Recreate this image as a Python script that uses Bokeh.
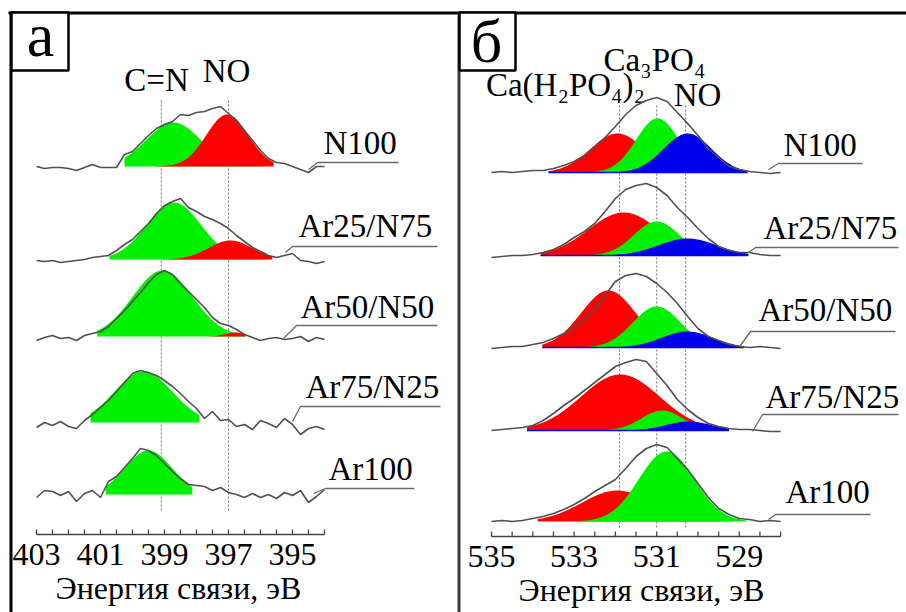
import numpy as np
from bokeh.plotting import figure
from bokeh.models import Range1d
from bokeh.core.properties import value
from bokeh.embed import file_html
from bokeh.resources import INLINE

# ------------------------------------------------------------------ data
samples = ["N100", "Ar25/N75", "Ar50/N50", "Ar75/N25", "Ar100"]

# panel а : N 1s, energy grid 403 -> 394 eV, step 0.25 eV
n_energy = np.arange(403.0, 393.99, -0.25)
n_n100 = [0, -2, -1, -1, -2, -4, -1, 2, -1, -1, -1, 12, 15, 23, 31, 38, 42, 45, 52, 51,
          54, 55, 58, 60, 53, 46, 36, 26, 16, 8, 4, 3, 0, -3, -6, 0, 0]
n_ar25 = [-1, -2, -1, -3, -2, -1, 0, 2, 3, 4, 9, 15, 20, 28, 36, 46, 54, 58, 61, 52,
          48, 43, 40, 36, 31, 24, 18, 12, 8, 4, 2, 4, 6, -1, -2, -4, -2]
n_ar50 = [-4, -1, 1, -2, -1, -4, 1, 3, 5, 10, 18, 26, 35, 44, 54, 62, 66, 62, 53, 45,
          37, 29, 19, 13, 11, 7, 2, -1, -4, -2, -1, -3, -2, 0, -5, -1, -3]
n_ar75 = [-5, 0, -3, 1, -4, -6, 2, 8, 15, 22, 31, 40, 49, 52, 50, 47, 42, 36, 29, 21,
          14, 4, 11, 2, 3, -4, -2, -7, 2, -1, -5, 4, -2, -12, -6, -4, -7]
n_ar100 = [-3, 4, 3, -1, 3, -7, 1, 4, -3, 13, 18, 27, 36, 46, 44, 39, 31, 23, 16, 10,
           9, 8, 4, 7, 2, 0, -3, 1, -3, 0, -4, 2, -1, 4, -8, -2, 5]
n_spectra = [n_n100, n_ar25, n_ar50, n_ar75, n_ar100]
n_offsets = [446, 353, 276, 190, 118]

n_cn_center = [398.72, 398.71, 399.06, 399.66, 399.50]
n_cn_height = [44, 57, 66, 51, 44]
n_cn_sigma = [0.85, 0.85, 0.93, 0.90, 0.73]
n_no_center = [397.04, 396.94, 396.80, 397.0, 397.0]
n_no_height = [52, 19, 4, 0, 0]
n_no_sigma = [0.65, 0.68, 0.30, 0.5, 0.5]
n_fit_hi = [400.25, 400.72, 401.10, 401.31, 400.84]
n_fit_lo = [395.59, 395.63, 396.47, 397.91, 398.13]
n_ref_lines = [399.1, 397.0]
n_ref_names = ["C=N", "NO"]
n_ticks_major = [403, 401, 399, 397, 395]

# panel б : O 1s, energy grid 535 -> 528 eV, step 0.25 eV
o_energy = np.arange(535.0, 527.99, -0.25)
o_n100 = [0, 1, 0, 1, 2, 2, 4, 7, 11, 17, 26, 35, 46, 58, 67, 72, 75, 71, 60, 49,
          37, 24, 15, 6, 3, 1, 0, -1, 0]
o_ar25 = [-2, -1, 0, 0, 1, 3, 6, 11, 18, 24, 32, 44, 57, 66, 70, 72, 68, 60, 48, 38,
          27, 17, 9, 5, 3, 3, 1, 0, 0]
o_ar50 = [-1, 0, 1, 1, 3, 5, 9, 14, 20, 29, 38, 52, 66, 72, 74, 71, 64, 55, 44, 31,
          19, 11, 7, 3, 1, 0, 1, 0, -1]
o_ar75 = [0, 1, 2, 3, 5, 10, 17, 25, 32, 40, 48, 56, 64, 68, 71, 69, 57, 45, 31, 21,
          13, 7, 4, 2, 1, 1, 0, -1, -1]
o_ar100 = [0, 1, 0, 1, 3, 5, 8, 12, 17, 23, 30, 36, 42, 53, 65, 73, 77, 74, 63, 52,
           38, 24, 13, 7, 3, 2, 0, 1, 0]
o_spectra = [o_n100, o_ar25, o_ar50, o_ar75, o_ar100]
o_offsets = [440, 357, 265, 182, 91]

o_red_center = [531.95, 531.80, 532.17, 531.88, 531.96]
o_red_height = [39, 43, 57, 56, 31]
o_red_sigma = [0.65, 0.85, 0.66, 0.95, 0.85]
o_green_center = [530.98, 531.00, 531.00, 530.87, 530.76]
o_green_height = [54, 34, 41, 20, 70]
o_green_sigma = [0.52, 0.55, 0.58, 0.50, 0.67]
o_blue_center = [530.25, 530.25, 530.26, 530.22, 530.25]
o_blue_height = [39, 17, 16, 9, 0]
o_blue_sigma = [0.58, 0.70, 0.62, 0.55, 0.50]
o_fit_hi = [533.62, 533.81, 533.77, 534.14, 533.88]
o_fit_lo = [528.80, 528.78, 528.89, 529.25, 528.83]
o_ref_lines = [531.9, 531.0, 530.3]
o_ticks_major = [535, 533, 531, 529]

# ------------------------------------------------------------------ layout helpers
FONT = value("Liberation Serif, Times New Roman, serif")
W, H = 906, 612
K = 0.37  # baseline correction (fraction of font size)


def ys(py):  # page pixel y -> data y
    return H - py


def xl(px):  # page pixel x -> energy (panel а)
    return 403 - (px - 36) / 32.0


def xr(px):  # page pixel x -> energy (panel б)
    return 535 - (px - 491) / 41.3


p = figure(width=W, height=H, output_backend="svg", toolbar_location=None,
           x_range=Range1d(xl(0), xl(W)), y_range=Range1d(0, H),
           x_axis_type=None, y_axis_type=None, min_border=0)
p.extra_x_ranges = {"r": Range1d(xr(0), xr(W))}
p.xgrid.visible = False
p.ygrid.visible = False
p.outline_line_color = None
p.background_fill_color = "white"
p.border_fill_color = "white"

LINE = "#505050"
LEAD = "#6a6a6a"
RED, GREEN, BLUE = "#ff0000", "#00f000", "#0000ee"


def gauss(e, c, h, s):
    return h * np.exp(-((e - c) ** 2) / (2 * s * s))


def fill_peak(lo, hi, c, h, s, off, color, rng="default"):
    if h <= 0:
        return
    e = np.linspace(hi, lo, 160)
    g = gauss(e, c, h, s)
    p.varea(x=e, y1=np.full_like(e, off), y2=off + g, fill_color=color,
            x_range_name=rng)


def texts(xs, py, labels, size=33, align="left", rng="default"):
    """py: page-pixel y of the text baseline"""
    p.text(x=list(xs), y=[ys(py - K * size)] * len(xs), text=list(labels),
           text_font=FONT, text_font_size=f"{size}px", text_align=align,
           text_baseline="alphabetic", text_color="black", x_range_name=rng)


def text(x, py, s, size=33, align="left", rng="default"):
    texts([x], py, [s], size, align, rng)


# ------------------------------------------------------------------ panel frames
p.line([xl(8), xl(906)], [ys(12.5), ys(12.5)], line_color="black", line_width=3)
p.line([xl(10.5), xl(10.5)], [ys(11), ys(620)], line_color="black", line_width=3)
p.line([xl(458.5), xl(458.5)], [ys(11), ys(620)], line_color="#3c3c3c", line_width=3)
p.quad(left=xl(11), right=xl(68), top=ys(12), bottom=ys(70), fill_color="white",
       line_color="black", line_width=2.5)
p.quad(left=xr(459), right=xr(515), top=ys(12), bottom=ys(70), fill_color="white",
       line_color="black", line_width=2.5, x_range_name="r")
text(xl(40), 57, "а", size=62, align="center")
text(xr(486), 63, "б", size=62, align="center", rng="r")

# ------------------------------------------------------------------ panel а
for e in n_ref_lines:
    p.line([e, e], [ys(100), ys(511)], line_color="#707070", line_width=1,
           line_dash="2 2")
text(xl(156), 92, n_ref_names[0], align="center")
text(xl(226), 83, n_ref_names[1], align="center")

for i in range(5):
    off = n_offsets[i]
    fill_peak(n_fit_lo[i], n_fit_hi[i], n_cn_center[i], n_cn_height[i],
              n_cn_sigma[i], off, GREEN)
    fill_peak(n_fit_lo[i], n_fit_hi[i], n_no_center[i], n_no_height[i],
              n_no_sigma[i], off, RED)
    p.line(n_energy, np.array(n_spectra[i]) + off, line_color=LINE, line_width=1.6)

n_label_pos = [(323, 155, 317, 398, 162, 308, 169),
               (298, 238, 292, 437, 246, 285, 252),
               (300, 319, 296, 437, 325, 283, 338),
               (305, 399, 300, 440, 406, 292, 421),
               (328, 481, 325, 414, 488, 313, 493)]
for i, (tx, ty, ux0, ux1, uy, dx, dy) in enumerate(n_label_pos):
    text(xl(tx), ty, samples[i])
    p.line([xl(ux1), xl(ux0), xl(dx)], [ys(uy), ys(uy), ys(dy)],
           line_color=LEAD, line_width=1.3)

# axis а
ax_y = ys(534)
p.line([403, 394], [ax_y, ax_y], line_color="#444444", line_width=1.5)
minor = np.arange(403.0, 393.99, -0.5)
p.segment(x0=minor, y0=np.full_like(minor, ax_y), x1=minor,
          y1=np.full_like(minor, ax_y + 5), line_color="#444444", line_width=1.3)
texts(n_ticks_major, 566, [str(t) for t in n_ticks_major], size=32, align="center")
text(xl(178), 599, "Энергия связи, эВ", size=32, align="center")

# ------------------------------------------------------------------ panel б
for e in o_ref_lines:
    p.line([e, e], [ys(105), ys(528)], line_color="#707070", line_width=1,
           line_dash="2 2", x_range_name="r")
text(xr(654), 72, "Ca₃PO₄", align="center", rng="r")
text(xr(565), 97, "Ca(H₂PO₄)₂", align="center", rng="r")
text(xr(697), 107, "NO", align="center", rng="r")

for i in range(5):
    off = o_offsets[i]
    lo, hi = o_fit_lo[i], o_fit_hi[i]
    fill_peak(lo, hi, o_red_center[i], o_red_height[i], o_red_sigma[i], off, RED, "r")
    fill_peak(lo, hi, o_green_center[i], o_green_height[i], o_green_sigma[i], off,
              GREEN, "r")
    fill_peak(lo, hi, o_blue_center[i], o_blue_height[i], o_blue_sigma[i], off,
              BLUE, "r")
    if o_blue_height[i] > 0:
        p.line([hi, lo], [off, off], line_color=BLUE, line_width=1.5,
               x_range_name="r")
    p.line(o_energy, np.array(o_spectra[i]) + off, line_color=LINE, line_width=1.6,
           x_range_name="r")

o_label_pos = [(783, 157, 778, 862, 163, 768, 169),
               (763, 240, 755, 898, 247, 748, 252),
               (758, 322, 750, 895, 331, 740, 345),
               (765, 409, 762, 898, 414, 752, 431),
               (785, 504, 775, 870, 514, 768, 519)]
for i, (tx, ty, ux0, ux1, uy, dx, dy) in enumerate(o_label_pos):
    text(xr(tx), ty, samples[i], rng="r")
    p.line([xr(ux1), xr(ux0), xr(dx)], [ys(uy), ys(uy), ys(dy)],
           line_color=LEAD, line_width=1.3, x_range_name="r")

# axis б
bx_y = ys(536)
p.line([535, 528], [bx_y, bx_y], line_color="#444444", line_width=1.5,
       x_range_name="r")
minor_b = np.arange(535.0, 527.99, -0.5)
p.segment(x0=minor_b, y0=np.full_like(minor_b, bx_y), x1=minor_b,
          y1=np.full_like(minor_b, bx_y + 5), line_color="#444444", line_width=1.3,
          x_range_name="r")
texts(o_ticks_major, 568, [str(t) for t in o_ticks_major], size=32, align="center",
      rng="r")
text(xr(641), 601, "Энергия связи, эВ", size=32, align="center", rng="r")

open("out.html", "w").write(file_html(p, INLINE))
